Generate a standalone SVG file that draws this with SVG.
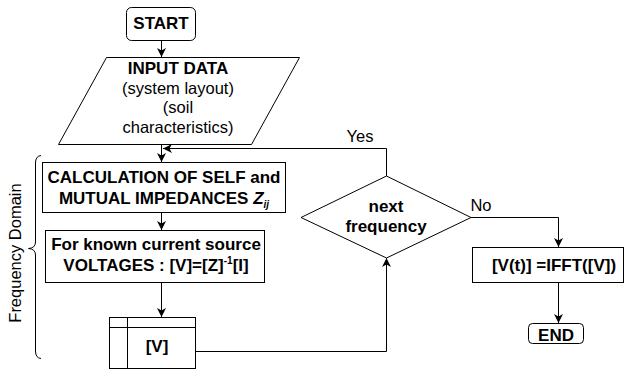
<svg xmlns="http://www.w3.org/2000/svg" width="624" height="372" viewBox="0 0 624 372">
<style>
.s{fill:#fff;stroke:#000;stroke-width:1}
.t{font-family:"Liberation Sans",Arial,sans-serif;font-size:16.5px;fill:#000;text-anchor:middle}
.b{font-weight:bold;font-size:17px}
.c{fill:none;stroke:#000;stroke-width:1}
</style>
<defs>
<marker id="ah" markerUnits="userSpaceOnUse" markerWidth="10" markerHeight="10" viewBox="0 0 10 10" refX="9" refY="5" orient="auto">
<path d="M0,0.5 L9,5 L0,9.5 L2.5,5 z" fill="#000"/>
</marker>
</defs>
<rect width="624" height="372" fill="#fff"/>
<g id="connectors">
<path class="c" d="M161.5,41 L161.5,57" marker-end="url(#ah)"/>
<path class="c" d="M161.5,144 L161.5,162" marker-end="url(#ah)"/>
<path class="c" d="M161.5,213 L161.5,230" marker-end="url(#ah)"/>
<path class="c" d="M161.5,283 L161.5,317" marker-end="url(#ah)"/>
<path class="c" d="M196,351.5 L386.5,351.5 L386.5,258" marker-end="url(#ah)"/>
<path class="c" d="M386.5,176 L386.5,148.5 L163,148.5" marker-end="url(#ah)"/>
<path class="c" d="M471,217.5 L558.5,217.5 L558.5,247" marker-end="url(#ah)"/>
<path class="c" d="M558.5,282 L558.5,323" marker-end="url(#ah)"/>
<text class="t" x="360" y="142">Yes</text>
<text class="t" x="481" y="211">No</text>
</g>
<g id="start">
<rect class="s" x="126.5" y="7.5" width="69" height="33" rx="5"/>
<text class="t b" x="161" y="29">START</text>
</g>
<g id="input">
<polygon class="s" points="106.5,57.5 299.5,57.5 251.5,144.5 58.5,144.5"/>
<text class="t b" x="178" y="74">INPUT DATA</text>
<text class="t" x="178" y="93.5">(system layout)</text>
<text class="t" x="178" y="113">(soil</text>
<text class="t" x="178" y="132.5">characteristics)</text>
</g>
<g id="calc">
<rect class="s" x="42.5" y="162.5" width="243" height="50"/>
<text class="t b" x="164" y="183">CALCULATION OF SELF and</text>
<text class="t b" x="164" y="203.5">MUTUAL IMPEDANCES <tspan font-style="italic">Z</tspan><tspan font-style="italic" font-size="10" dy="4">ij</tspan></text>
</g>
<g id="voltages">
<rect class="s" x="45.5" y="230.5" width="219" height="52"/>
<text class="t b" x="156" y="250">For known current source</text>
<text class="t b" x="156" y="270.5">VOLTAGES : [V]=[Z]<tspan font-size="10" dy="-7">-1</tspan><tspan dy="7">[I]</tspan></text>
</g>
<g id="vstore">
<rect class="s" x="109.5" y="317.5" width="86" height="51"/>
<path class="c" d="M109.5,327.5 L195.5,327.5 M127.5,317.5 L127.5,368.5"/>
<text class="t b" x="157" y="352">[V]</text>
</g>
<g id="decision">
<polygon class="s" points="301,217.5 386.5,176 471,217.5 386.5,258"/>
<text class="t b" x="386" y="212">next</text>
<text class="t b" x="386" y="232">frequency</text>
</g>
<g id="ifft">
<rect class="s" x="472.5" y="247.5" width="151" height="35"/>
<text class="t b" x="554" y="270.5">[V(t)] =IFFT([V])</text>
</g>
<g id="end">
<rect class="s" x="528.5" y="323.5" width="55" height="20" rx="4"/>
<text class="t b" x="556" y="341">END</text>
</g>
<g id="brace">
<path class="c" d="M41,155.5 Q35.5,156 35.5,163 L35.5,242 Q35.5,248 28.5,248.5 Q35.5,249 35.5,255 L35.5,351 Q35.5,358 41,358.5"/>
<text class="t" transform="translate(21,253) rotate(-90)">Frequency Domain</text>
</g>
</svg>
